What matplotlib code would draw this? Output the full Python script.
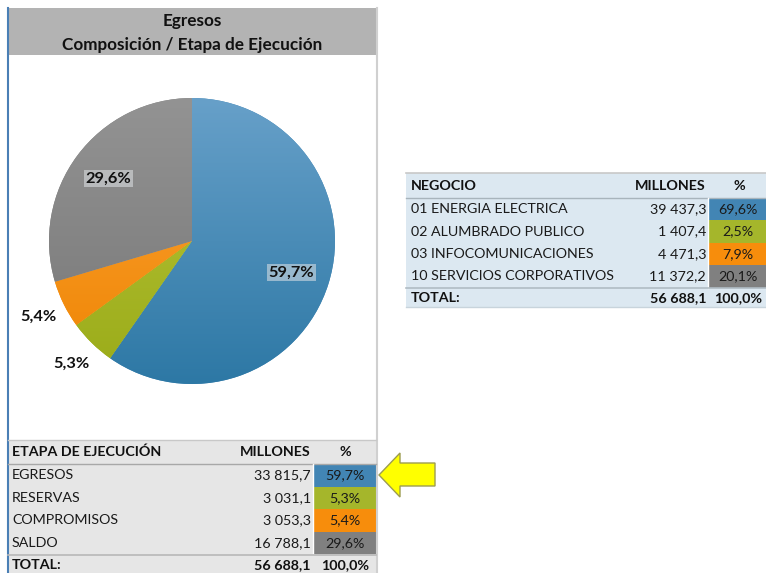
import numpy as np
import matplotlib
matplotlib.use("Agg")
import matplotlib.pyplot as plt
from matplotlib.patches import Rectangle, Polygon

plt.rcParams['font.family'] = ['Lato', 'DejaVu Sans']

# data
etapas = ["EGRESOS", "RESERVAS", "COMPROMISOS", "SALDO"]
etapa_millones = ["33 815,7", "3 031,1", "3 053,3", "16 788,1"]
etapa_pct = [59.7, 5.3, 5.4, 29.6]
etapa_total = ["56 688,1", "100,0%"]

negocios = ["01 ENERGIA ELECTRICA", "02 ALUMBRADO PUBLICO",
            "03 INFOCOMUNICACIONES", "10 SERVICIOS CORPORATIVOS"]
negocio_millones = ["39 437,3", "1 407,4", "4 471,3", "11 372,2"]
negocio_pct = [69.6, 2.5, 7.9, 20.1]
negocio_total = ["56 688,1", "100,0%"]

colors = ["#4285b4", "#a5b62b", "#f78d0c", "#808080"]
grad_top = ["#67a0c9", "#b9c63c", "#fba43a", "#939393"]
grad_bot = ["#2d78a5", "#9aab18", "#ef8400", "#767676"]

FS = 10.3      # table font size
TXT = "#1a1a1a"


def fmt(v):
    return ("%.1f%%" % v).replace(".", ",")


W, H = 766, 573
fig = plt.figure(figsize=(W / 100, H / 100), dpi=100)
bg = fig.add_axes([0, 0, 1, 1])
bg.set_xlim(0, W)
bg.set_ylim(H, 0)
bg.axis("off")

# left panel frame + title band
bg.add_patch(Rectangle((8, 8), 368, 47, color="#b3b3b3", lw=0))
bg.plot([7.5, 7.5], [8, H], color="#4a7fb5", lw=1.5)
bg.plot([376.5, 376.5], [8, H], color="#d0d0d0", lw=1.5)
bg.text(192, 21, "Egresos", ha="center", va="center", fontsize=12.3, fontweight="bold", color="#111111")
bg.text(192, 45, "Composición / Etapa de Ejecución", ha="center", va="center",
        fontsize=12.3, fontweight="bold", color="#111111")

# bottom table (etapa)
bg.add_patch(Rectangle((8, 440), 368, H - 440, color="#e6e6e6", lw=0))
bg.plot([8, 376], [440, 440], color="#c8c8c8", lw=1)
bg.plot([8, 376], [463.5, 463.5], color="#a8a8a8", lw=1)
bg.text(12, 452, "ETAPA DE EJECUCIÓN", ha="left", va="center", fontsize=FS, fontweight="bold", color="#111111")
bg.text(311, 452, "MILLONES", ha="right", va="center", fontsize=FS, fontweight="bold", color="#111111")
bg.text(345, 452, "%", ha="center", va="center", fontsize=FS, fontweight="bold", color="#111111")
row_h = 22.6
for i, (name, m, p) in enumerate(zip(etapas, etapa_millones, etapa_pct)):
    y0 = 464 + i * row_h
    yc = y0 + row_h / 2
    bg.add_patch(Rectangle((314, y0), 62, row_h, color=colors[i], lw=0))
    bg.text(12, yc, name, ha="left", va="center", fontsize=FS, color=TXT)
    bg.text(311, yc, m, ha="right", va="center", fontsize=FS, color=TXT)
    bg.text(345, yc, fmt(p), ha="center", va="center", fontsize=FS, color=TXT)
bg.plot([313, 313], [464, 464 + 4 * row_h], color="white", lw=1)
bg.plot([8, 376], [554.5, 554.5], color="#b8b8b8", lw=1.2)
bg.text(12, 565, "TOTAL:", ha="left", va="center", fontsize=FS, fontweight="bold", color="#111111")
bg.text(311, 565, etapa_total[0], ha="right", va="center", fontsize=FS, fontweight="bold", color="#111111")
bg.text(345, 565, etapa_total[1], ha="center", va="center", fontsize=FS, fontweight="bold", color="#111111")

# yellow arrow
bg.add_patch(Polygon([(379, 475), (400, 453), (400, 463), (435, 463), (435, 486),
                      (400, 486), (400, 497)], closed=True, facecolor="#ffff00",
                     edgecolor="#9c9c50", lw=1))

# right table (negocio)
bg.add_patch(Rectangle((406, 173), 360, 134, color="#dce8f1", lw=0))
bg.plot([406, 766], [173, 173], color="#c8c8c8", lw=1.2)
bg.plot([406, 766], [197.5, 197.5], color="#a8b4bc", lw=1)
bg.text(411, 186, "NEGOCIO", ha="left", va="center", fontsize=FS, fontweight="bold", color="#111111")
bg.text(706, 186, "MILLONES", ha="right", va="center", fontsize=FS, fontweight="bold", color="#111111")
bg.text(739, 186, "%", ha="center", va="center", fontsize=FS, fontweight="bold", color="#111111")
row_h2 = 22.4
for i, (name, m, p) in enumerate(zip(negocios, negocio_millones, negocio_pct)):
    y0 = 198 + i * row_h2
    yc = y0 + row_h2 / 2
    bg.add_patch(Rectangle((709, y0), 57, row_h2, color=colors[i], lw=0))
    bg.text(411, yc, name, ha="left", va="center", fontsize=FS, color=TXT)
    bg.text(706, yc, m, ha="right", va="center", fontsize=FS, color=TXT)
    bg.text(738, yc, fmt(p), ha="center", va="center", fontsize=FS, color=TXT)
bg.plot([708, 708], [198, 198 + 4 * row_h2], color="white", lw=1)
bg.plot([406, 766], [287.5, 287.5], color="#b0bcc4", lw=1.2)
bg.plot([406, 766], [307, 307], color="#c8d4dc", lw=1)
bg.text(411, 298, "TOTAL:", ha="left", va="center", fontsize=FS, fontweight="bold", color="#111111")
bg.text(706, 298, negocio_total[0], ha="right", va="center", fontsize=FS, fontweight="bold", color="#111111")
bg.text(738, 298, negocio_total[1], ha="center", va="center", fontsize=FS, fontweight="bold", color="#111111")

# pie
cx, cy, r = 192, 241, 143
ax = fig.add_axes([(cx - r) / W, (H - cy - r) / H, 2 * r / W, 2 * r / H])
wedges, _ = ax.pie(etapa_pct, colors=colors, startangle=90, counterclock=False,
                   wedgeprops=dict(linewidth=0))
ax.set_xlim(-1, 1)
ax.set_ylim(-1, 1)
ax.set_aspect("equal")
ax.axis("off")

# vertical gradient inside each wedge
for w, c0, c1 in zip(wedges, grad_top, grad_bot):
    a = np.array(matplotlib.colors.to_rgb(c0))
    b = np.array(matplotlib.colors.to_rgb(c1))
    t = np.linspace(0, 1, 256)[:, None]
    img = (a * (1 - t) + b * t)[:, None, :]
    im = ax.imshow(img, extent=[-1, 1, -1, 1], origin="upper", aspect="auto", zorder=2)
    im.set_clip_path(w)

for w, p in zip(wedges, etapa_pct):
    ang = np.deg2rad((w.theta1 + w.theta2) / 2)
    if p > 10:
        d = 0.73
        ax.text(d * np.cos(ang), d * np.sin(ang), fmt(p), ha="center", va="center",
                fontsize=11.8, fontweight="bold", color="#111111", zorder=5,
                bbox=dict(boxstyle="square,pad=0.1", fc="#dfe3e6", ec="none", alpha=0.55))
    else:
        d = 1.2
        ax.text(d * np.cos(ang), d * np.sin(ang), fmt(p), ha="center", va="center",
                fontsize=11.8, fontweight="bold", color="#111111", zorder=5, clip_on=False)

fig.savefig("out.png", dpi=100)
